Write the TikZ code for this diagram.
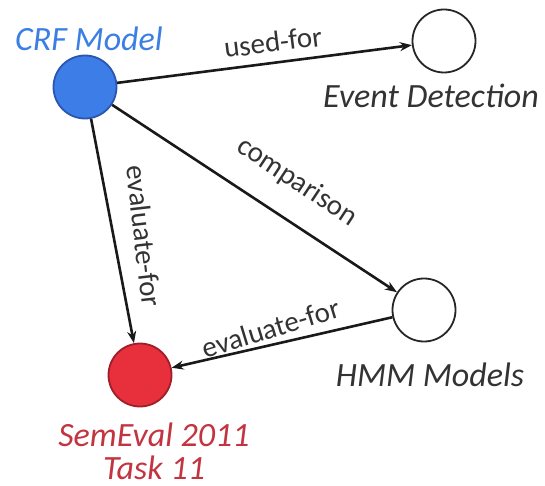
\documentclass[tikz,border=0pt]{standalone}
\usepackage{fontspec}
\setmainfont{Carlito}
\usetikzlibrary{arrows.meta}
\definecolor{crfblue}{HTML}{3D7DE8}
\definecolor{crfedge}{HTML}{2A56B0}
\definecolor{crftext}{HTML}{3B7FE2}
\definecolor{semred}{HTML}{E8303C}
\definecolor{semedge}{HTML}{9E1E2A}
\definecolor{semtext}{HTML}{C23440}
\definecolor{labtext}{HTML}{333333}
\begin{document}
\begin{tikzpicture}[x=1pt,y=-1pt,
  entity/.style={circle,draw=black!85,line width=1.8pt,minimum size=63pt,inner sep=0pt,fill=white},
  nodetext/.style={font=\fontsize{34}{33}\selectfont\itshape,text=labtext,inner sep=0pt},
  reltext/.style={font=\fontsize{29}{33}\selectfont,text=labtext,inner sep=0pt},
  rel/.style={line width=2.6pt,draw=black!90,-{Stealth[length=12pt,width=9pt]}}]
\useasboundingbox (0,0) rectangle (545,486);
% entities
\node[entity,fill=crfblue,draw=crfedge] (crf) at (85,87) {};
\node[entity] (event) at (444,41) {};
\node[entity] (hmm) at (424,310) {};
\node[entity,fill=semred,draw=semedge] (sem) at (140,375) {};
% entity names
\node[nodetext,text=crftext] (crfname) at (89,39) {CRF Model};
\node[nodetext] (eventname) at (431,96) {Event Detection};
\node[nodetext] (hmmname) at (430,375) {HMM Models};
\node[nodetext,text=semtext,align=center] (semname) at (154,451) {SemEval 2011\\Task 11};
% relations
\draw[rel] (crf) -- (event);
\draw[rel] (crf) -- (hmm);
\draw[rel] (crf) -- (sem);
\draw[rel] (hmm) -- (sem);
% relation labels
\node[reltext,rotate=7] (lusedfor) at (273,42) {used-for};
\node[reltext,rotate=-33.5] (lcomp) at (297,182) {comparison};
\node[reltext,rotate=-83.5] (leval1) at (144,236) {evaluate-for};
\node[reltext,rotate=17] (leval2) at (271,328) {evaluate-for};
\end{tikzpicture}
\end{document}
